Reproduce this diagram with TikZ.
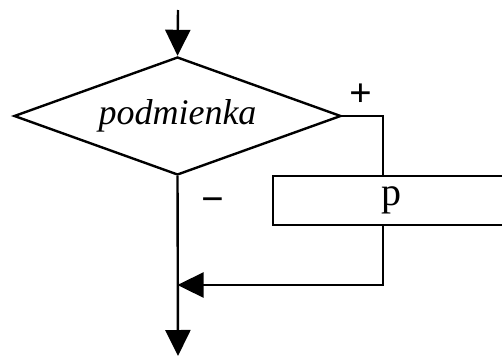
\documentclass[tikz,border=0pt]{standalone}
\usepackage{fontspec}
\setmainfont{Liberation Serif}
\usetikzlibrary{shapes.geometric,arrows.meta}
\begin{document}
\begin{tikzpicture}[x=1pt,y=-1pt,
  plain/.style={line width=2.4pt},
  flow/.style={line width=2.4pt,-{Triangle[length=26pt,width=25pt]}},
  decision/.style={diamond,draw,line width=2.4pt,aspect=2.771,minimum width=327pt,minimum height=118pt,inner sep=0pt,font=\fontsize{36}{40}\selectfont\itshape},
  stepbox/.style={rectangle,draw,line width=2.4pt,minimum width=236pt,minimum height=49pt,inner sep=0pt,font=\fontsize{40}{44}\selectfont},
  sign/.style={inner sep=0pt,font=\fontsize{40}{44}\selectfont\bfseries}]
\useasboundingbox (0,0) rectangle (502,356);
\clip (0,0) rectangle (502,356);
\node[decision] (dec) at (177.5,116) {podmienka};
\node[stepbox] (box) at (391,200.5) {p};
\coordinate (top) at (178,10);
\coordinate (bot) at (178,356);
\coordinate (c1) at (383,116);
\coordinate (c2) at (383,285);
\node[sign] (plus) at (361,95) {+};
\node[sign] (minus) at (213,205) {−};
\draw[flow] (top) -- (dec.north);
\draw[flow] (dec.south) -- (bot);
\draw[plain] (dec.east) -- (c1) -- (c1 |- box.north);
\draw[flow] (c2 |- box.south) -- (c2) -- (c2 -| dec.south);
\end{tikzpicture}
\end{document}
